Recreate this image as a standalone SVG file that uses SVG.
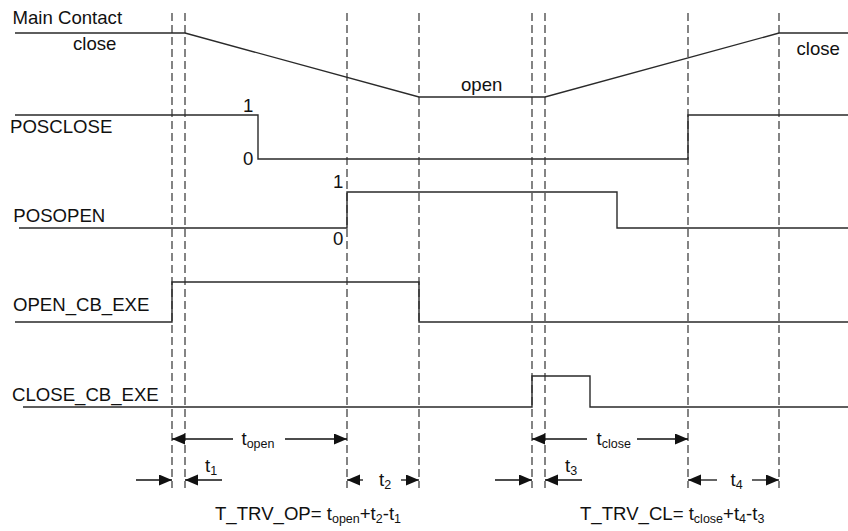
<svg xmlns="http://www.w3.org/2000/svg" width="848" height="531" viewBox="0 0 848 531">
<style>
.sig{fill:none;stroke:#2a2a2a;stroke-width:1.4}
.dash{fill:none;stroke:#333;stroke-width:1.2;stroke-dasharray:8 4}
.arr{fill:none;stroke:#111;stroke-width:1.3;marker-end:url(#ah)}
text{font-family:"Liberation Sans",Arial,sans-serif;font-size:18.6px;fill:#111}
.sub{font-size:12.5px}
</style>
<defs>
<marker id="ah" markerUnits="userSpaceOnUse" markerWidth="14" markerHeight="12" refX="13" refY="5.5" orient="auto">
<path d="M0,0 L13,5.5 L0,11 Z" fill="#111"/>
</marker>
</defs>
<rect width="848" height="531" fill="#fff"/>

<g id="guides">
<line class="dash" x1="172" y1="13" x2="172" y2="488"/>
<line class="dash" x1="185" y1="13" x2="185" y2="488"/>
<line class="dash" x1="347" y1="13" x2="347" y2="488"/>
<line class="dash" x1="419" y1="13" x2="419" y2="488"/>
<line class="dash" x1="532" y1="13" x2="532" y2="488"/>
<line class="dash" x1="545" y1="13" x2="545" y2="488"/>
<line class="dash" x1="688" y1="13" x2="688" y2="488"/>
<line class="dash" x1="779" y1="13" x2="779" y2="488"/>
</g>

<g id="main-contact">
<polyline class="sig" points="15,33 185,33 419,97 545,97 779,33 848,33"/>
<text x="12.5" y="24">Main Contact</text>
<text x="73" y="50">close</text>
<text x="461" y="90.5">open</text>
<text x="796.5" y="54.5">close</text>
</g>

<g id="posclose">
<polyline class="sig" points="15,115 258,115 258,159 688,159 688,115 848,115"/>
<text x="10" y="133.3">POSCLOSE</text>
<text x="243" y="111.5">1</text>
<text x="243" y="165">0</text>
</g>

<g id="posopen">
<polyline class="sig" points="19,228 347,228 347,192 617,192 617,228 848,228"/>
<text x="13.3" y="222.3">POSOPEN</text>
<text x="333" y="188.3">1</text>
<text x="333" y="245">0</text>
</g>

<g id="open-cb-exe">
<polyline class="sig" points="15,322 172,322 172,282 419,282 419,322 848,322"/>
<text x="13" y="311">OPEN_CB_EXE</text>
</g>

<g id="close-cb-exe">
<polyline class="sig" points="23,407 532,407 532,376 590,376 590,407 848,407"/>
<text x="12" y="401">CLOSE_CB_EXE</text>
</g>

<g id="connectors">
<line class="arr" x1="233" y1="439" x2="172" y2="439"/>
<line class="arr" x1="285" y1="439" x2="347" y2="439"/>
<line class="arr" x1="587" y1="439" x2="532" y2="439"/>
<line class="arr" x1="637" y1="439" x2="688" y2="439"/>
<line class="arr" x1="136" y1="480" x2="172" y2="480"/>
<line class="arr" x1="222" y1="480" x2="185" y2="480"/>
<line class="arr" x1="363" y1="480" x2="347" y2="480"/>
<line class="arr" x1="401" y1="480" x2="419" y2="480"/>
<line class="arr" x1="495" y1="480" x2="532" y2="480"/>
<line class="arr" x1="582" y1="480" x2="545" y2="480"/>
<line class="arr" x1="717" y1="480" x2="688" y2="480"/>
<line class="arr" x1="752" y1="480" x2="779" y2="480"/>
</g>

<g id="labels">
<text x="241.5" y="445">t<tspan class="sub" dy="3">open</tspan></text>
<text x="596.5" y="445">t<tspan class="sub" dy="3">close</tspan></text>
<text x="205" y="472">t<tspan class="sub" dy="3">1</tspan></text>
<text x="379" y="486">t<tspan class="sub" dy="3">2</tspan></text>
<text x="565" y="472">t<tspan class="sub" dy="3">3</tspan></text>
<text x="730.5" y="486">t<tspan class="sub" dy="3">4</tspan></text>
<text x="215" y="520">T_TRV_OP= t<tspan class="sub" dy="3">open</tspan><tspan dy="-3">+t</tspan><tspan class="sub" dy="3">2</tspan><tspan dy="-3">-t</tspan><tspan class="sub" dy="3">1</tspan></text>
<text x="580" y="520">T_TRV_CL= t<tspan class="sub" dy="3">close</tspan><tspan dy="-3">+t</tspan><tspan class="sub" dy="3">4</tspan><tspan dy="-3">-t</tspan><tspan class="sub" dy="3">3</tspan></text>
</g>
</svg>
